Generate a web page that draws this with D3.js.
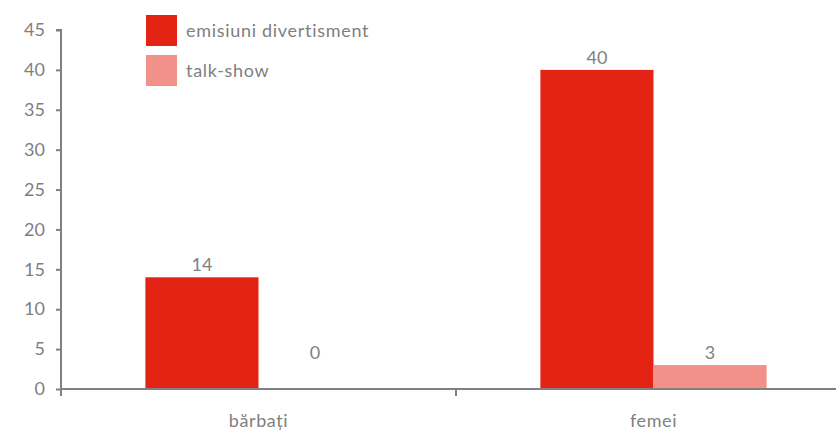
<!DOCTYPE html>
<html><head><meta charset="utf-8">
<script src="https://cdn.jsdelivr.net/npm/d3@7"></script>
<style>body{margin:0;background:#fff}svg{display:block}text{font-family:Lato,"Open Sans",sans-serif;fill:#808080}</style>
</head><body><svg id="c" width="836" height="432"></svg>
<script>
const categories = ["bărbați", "femei"];
const seriesNames = ["emisiuni divertisment", "talk-show"];
const divertisment = [14, 40];
const talkShow = [0, 3];
const yTicks = [0, 5, 10, 15, 20, 25, 30, 35, 40, 45];
const colors = ["#E32415", "#F2918A"];

const svg = d3.select("#c");
const x = d3.scaleBand().domain(categories).range([61, 851]).paddingInner(0).paddingOuter(0);
const y = d3.scaleLinear().domain([0, 45]).range([389, 30]);
const series = [divertisment, talkShow];
const inner = d3.scaleBand().domain(d3.range(series.length)).range([0, x.bandwidth()]).paddingInner(0).paddingOuter(0.746);

// bars
series.forEach((vals, si) => {
  svg.append("g").selectAll("rect").data(vals).join("rect")
    .attr("x", (d, i) => x(categories[i]) + inner(si))
    .attr("width", inner.bandwidth())
    .attr("y", d => y(d))
    .attr("height", d => y(0) - y(d))
    .attr("fill", colors[si]);
  svg.append("g").selectAll("text").data(vals).join("text")
    .attr("x", (d, i) => x(categories[i]) + inner(si) + inner.bandwidth() / 2)
    .attr("y", d => (d === 0 ? y(3) : y(d)) - 6)
    .attr("text-anchor", "middle")
    .style("font-size", "18px")
    .text(d => d);
});

// y axis
const ya = svg.append("g").attr("transform", "translate(61,0)")
  .call(d3.axisLeft(y).tickValues(yTicks).tickSize(5).tickPadding(11));
ya.select(".domain").attr("stroke", "#808080").attr("stroke-width", 2).attr("d", `M-5,${y(45)}H0V${y(0)+7}`);
ya.selectAll(".tick line").attr("stroke", "#808080").attr("stroke-width", 2);
ya.selectAll(".tick text").style("font-size", "18px").style("font-family", "Lato,'Open Sans',sans-serif").attr("fill", "#808080");

// x axis
const xa = svg.append("g").attr("transform", `translate(0,${y(0)})`);
xa.append("line").attr("x1", 61).attr("x2", 836).attr("stroke", "#808080").attr("stroke-width", 2);
xa.selectAll("line.t").data(categories).join("line").attr("class", "t")
  .attr("x1", d => x(d) + x.bandwidth()).attr("x2", d => x(d) + x.bandwidth())
  .attr("y1", 0).attr("y2", 7).attr("stroke", "#808080").attr("stroke-width", 2);
xa.selectAll("text").data(categories).join("text")
  .attr("x", d => x(d) + x.bandwidth() / 2).attr("y", 38)
  .attr("text-anchor", "middle").style("font-size", "18px").style("letter-spacing", "0.6px").text(d => d);

// legend
const lg = svg.append("g").selectAll("g").data(seriesNames).join("g")
  .attr("transform", (d, i) => `translate(146,${15 + i * 40})`);
lg.append("rect").attr("width", 31).attr("height", 31).attr("fill", (d, i) => colors[i]);
lg.append("text").attr("x", 40).attr("y", 22).style("font-size", "18px").style("letter-spacing", "0.7px").text(d => d);
</script></body></html>
